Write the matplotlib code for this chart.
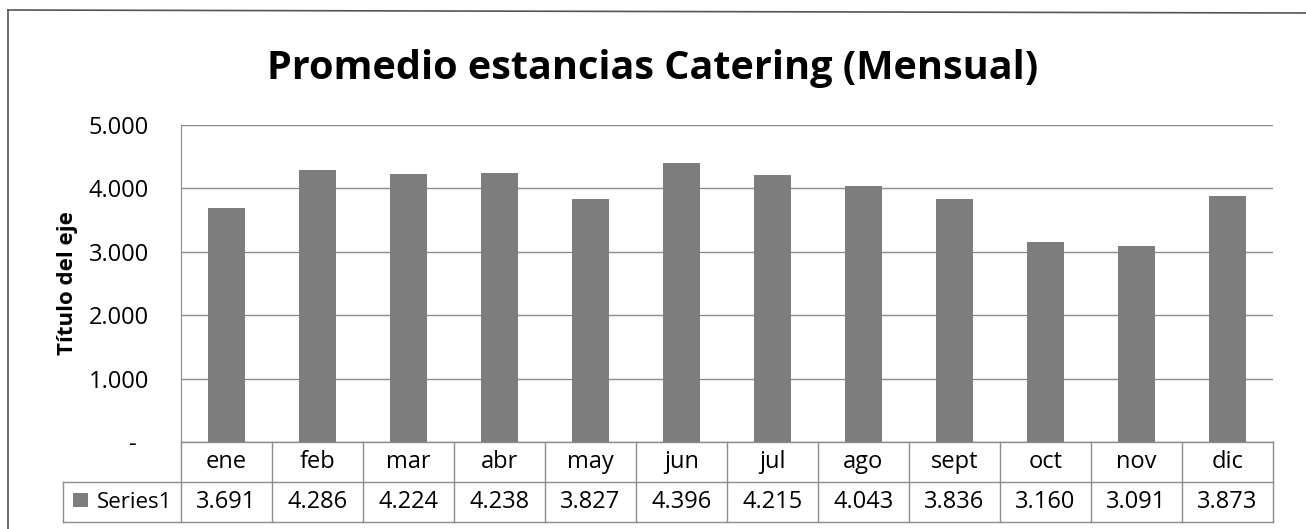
import matplotlib
matplotlib.use("Agg")
import matplotlib.pyplot as plt
from matplotlib.patches import Rectangle
from matplotlib.ticker import FuncFormatter

plt.rcParams['font.family'] = ['Open Sans', 'DejaVu Sans']

title = "Promedio estancias Catering (Mensual)"
y_label = "Título del eje"
series_name = "Series1"
months = ["ene", "feb", "mar", "abr", "may", "jun",
          "jul", "ago", "sept", "oct", "nov", "dic"]
values = [3691, 4286, 4224, 4238, 3827, 4396,
          4215, 4043, 3836, 3160, 3091, 3873]
y_ticks = [0, 1000, 2000, 3000, 4000, 5000]

bar_color = "#7d7d7d"
grid_color = "#8c8c8c"
W, H = 1306, 529


def fmt_thousands(v, pos=None):
    if v == 0:
        return "-  "
    return f"{int(v):,}".replace(",", ".")


fig = plt.figure(figsize=(W / 100, H / 100), dpi=100)

# plot area in pixel terms of the reference
left, right, top, zero = 181, 1273, 125, 442
ax = fig.add_axes([left / W, (H - zero) / H, (right - left) / W, (zero - top) / H])

n = len(months)
x = list(range(n))
ax.bar(x, values, width=0.4, color=bar_color, zorder=3)
ax.set_xlim(-0.5, n - 0.5)
ax.set_ylim(0, 5000)
ax.set_yticks(y_ticks)
ax.yaxis.set_major_formatter(FuncFormatter(fmt_thousands))
ax.set_xticks([])
ax.tick_params(axis="y", length=0, pad=23, labelsize=17)
ax.grid(axis="y", color=grid_color, linewidth=1.0, zorder=0)
for side in ("top", "right", "bottom"):
    ax.spines[side].set_visible(False)
ax.spines["left"].set_color(grid_color)
ax.set_ylabel(y_label, fontsize=16, fontweight="bold", labelpad=8)

# data table under the plot (x in data units, y in axes fraction)
col_px = (right - left) / n
row_h = 40 / (zero - top)
label_left = -0.5 - (left - 63) / col_px
tr = ax.get_xaxis_transform()
line_kw = dict(transform=tr, clip_on=False, color=grid_color, linewidth=1.0)

ax.plot([-0.5, n - 0.5], [0, 0], **line_kw)
ax.plot([label_left, n - 0.5], [-row_h, -row_h], **line_kw)
ax.plot([label_left, n - 0.5], [-2 * row_h, -2 * row_h], **line_kw)
for b in range(n + 1):
    ax.plot([b - 0.5, b - 0.5], [0, -2 * row_h], **line_kw)
ax.plot([label_left, label_left], [-row_h, -2 * row_h], **line_kw)

for j in range(n):
    ax.text(j, -0.5 * row_h, months[j], transform=tr, ha="center", va="center",
            fontsize=17)
    ax.text(j, -1.5 * row_h, fmt_thousands(values[j]), transform=tr,
            ha="center", va="center", fontsize=17)
ax.text(-0.5 - 9 / col_px, -1.5 * row_h, series_name, transform=tr,
        ha="right", va="center", fontsize=16)

# legend key in the row label cell
ax.add_patch(Rectangle((-(left - 73) / (right - left), (zero - 507) / (zero - top)),
                       15 / (right - left), 14 / (zero - top),
                       transform=ax.transAxes, clip_on=False,
                       facecolor=bar_color, edgecolor="none"))

fig.suptitle(title, x=0.5, y=1 - 68 / H, va="center", fontsize=28.5,
             fontweight="bold")

# outer chart border (scan shows only top and left edges)
fig.add_artist(plt.Line2D([8 / W, 8 / W], [0, 1 - 10 / H], transform=fig.transFigure,
                          color="#555555", linewidth=1.2))
fig.add_artist(plt.Line2D([8 / W, 1], [1 - 10 / H, 1 - 13 / H], transform=fig.transFigure,
                          color="#555555", linewidth=1.2))

fig.savefig("out.png", dpi=100)
